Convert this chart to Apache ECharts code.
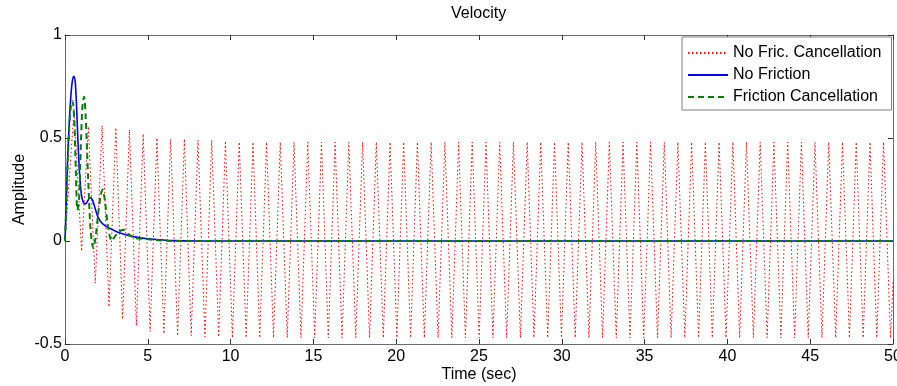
<!DOCTYPE html>
<html>
<head>
<meta charset="utf-8">
<script src="https://cdn.jsdelivr.net/npm/echarts@6/dist/echarts.min.js"></script>
<style>
html,body{margin:0;padding:0;background:#fff;}
#chart{width:897px;height:386px;}
</style>
</head>
<body>
<div id="chart"></div>
<script>
// ---- Data ----
const seriesNames = ['No Fric. Cancellation', 'No Friction', 'Friction Cancellation'];
const xTicks = [0, 5, 10, 15, 20, 25, 30, 35, 40, 45, 50];
const yTicks = [-0.5, 0, 0.5, 1];

// "No Fric. Cancellation" : extrema of the sustained oscillation
const redT = [
  0, 0.55, 1.00, 1.41, 1.83, 2.24, 2.66, 3.07, 3.48, 3.89, 4.31, 4.72, 5.14, 5.55, 5.97, 6.38,
  6.80, 7.21, 7.62, 8.03, 8.45, 8.86, 9.28, 9.69, 10.11,
  10.52, 10.94, 11.35, 11.76, 12.17, 12.59, 13.00, 13.42, 13.83, 14.25, 14.66, 15.08, 15.49, 15.90, 16.31, 16.73,
  17.14, 17.56, 17.97, 18.39, 18.80, 19.22, 19.63, 20.04, 20.45, 20.87, 21.28, 21.70, 22.11, 22.53, 22.94, 23.36,
  23.77, 24.18, 24.59, 25.01, 25.42, 25.84, 26.25, 26.67, 27.08, 27.50, 27.91, 28.32, 28.73, 29.15, 29.56, 29.98,
  30.39, 30.81, 31.22, 31.64, 32.05, 32.46, 32.87, 33.29, 33.70, 34.12, 34.53, 34.95, 35.36, 35.78, 36.19, 36.60,
  37.01, 37.43, 37.84, 38.26, 38.67, 39.09, 39.50, 39.92, 40.33, 40.74, 41.15, 41.57, 41.98, 42.40, 42.81, 43.23,
  43.64, 44.06, 44.47, 44.88, 45.29, 45.71, 46.12, 46.54, 46.95, 47.37, 47.78, 48.20, 48.61, 49.02, 49.43, 49.85,
  50
];
const redV = [
  0, 0.64, -0.05, 0.555, -0.205, 0.56, -0.32, 0.55, -0.38, 0.54, -0.41, 0.52, -0.44, 0.50, -0.45, 0.495,
  -0.46, 0.495, -0.46, 0.49, -0.465, 0.49, -0.465, 0.485, -0.47,
  0.48, -0.47, 0.48, -0.47, 0.48, -0.47, 0.48, -0.47, 0.48, -0.47, 0.48, -0.47, 0.48, -0.47, 0.48, -0.47,
  0.48, -0.47, 0.48, -0.47, 0.48, -0.47, 0.48, -0.47, 0.48, -0.47, 0.48, -0.47, 0.48, -0.47, 0.48, -0.47,
  0.48, -0.47, 0.48, -0.47, 0.48, -0.47, 0.48, -0.47, 0.48, -0.47, 0.48, -0.47, 0.48, -0.47, 0.48, -0.47,
  0.48, -0.47, 0.48, -0.47, 0.48, -0.47, 0.48, -0.47, 0.48, -0.47, 0.48, -0.47, 0.48, -0.47, 0.48, -0.47,
  0.48, -0.47, 0.48, -0.47, 0.48, -0.47, 0.48, -0.47, 0.48, -0.47, 0.48, -0.47, 0.48, -0.47, 0.48, -0.47,
  0.48, -0.47, 0.48, -0.47, 0.48, -0.47, 0.48, -0.47, 0.48, -0.47, 0.48, -0.47, 0.48, -0.47, 0.48, -0.47,
  -0.2
];

// "No Friction"
const blueT = [0, 0.04, 0.08, 0.15, 0.25, 0.35, 0.45, 0.54, 0.62, 0.70, 0.80, 0.90, 1.00, 1.10, 1.20, 1.30,
  1.45, 1.57, 1.70, 1.85, 2.00, 2.20, 2.50, 2.80, 3.20, 3.70, 4.20, 4.90, 5.50, 6.50, 8.00, 50];
const blueV = [0, 0.10, 0.20, 0.38, 0.56, 0.70, 0.78, 0.80, 0.77, 0.65, 0.45, 0.30, 0.22, 0.19, 0.18, 0.185,
  0.205, 0.21, 0.19, 0.15, 0.115, 0.09, 0.07, 0.058, 0.042, 0.03, 0.02, 0.012, 0.007, 0.002, 0, 0];

// "Friction Cancellation"
const greenT = [0, 0.04, 0.08, 0.15, 0.25, 0.35, 0.45, 0.55, 0.65, 0.75, 0.85, 0.95, 1.05, 1.15, 1.25, 1.40,
  1.55, 1.71, 1.85, 2.00, 2.15, 2.27, 2.40, 2.60, 2.82, 3.00, 3.25, 3.52, 3.80, 4.20, 4.80, 5.50, 6.50, 50];
const greenV = [0, 0.09, 0.18, 0.35, 0.55, 0.65, 0.68, 0.60, 0.35, 0.15, 0.20, 0.45, 0.65, 0.70, 0.60, 0.30,
  0.05, -0.035, 0.02, 0.13, 0.22, 0.25, 0.20, 0.07, 0.00, 0.02, 0.045, 0.055, 0.035, 0.015, 0.01, 0.005, 0, 0];

function pairs(t, v) {
  const n = Math.min(t.length, v.length);
  const out = [];
  for (let i = 0; i < n; i++) out.push([t[i], v[i]]);
  return out;
}

const FONT = '"Liberation Sans", Arial, Helvetica, sans-serif';
const AXIS_COLOR = '#6b6b6b';
const TICK_COLOR = '#333';
const FS = 16;

const chart = echarts.init(document.getElementById('chart'), null, {renderer: 'canvas'});

const baseX = {
  type: 'value', min: xTicks[0], max: xTicks[xTicks.length - 1], interval: 5,
  splitLine: {show: false},
  axisLine: {show: true, onZero: false, lineStyle: {color: AXIS_COLOR, width: 1}},
  axisTick: {show: true, inside: true, length: 5, lineStyle: {color: TICK_COLOR}},
};
const baseY = {
  type: 'value', min: yTicks[0], max: yTicks[yTicks.length - 1], interval: 0.5,
  splitLine: {show: false},
  axisLine: {show: true, onZero: false, lineStyle: {color: AXIS_COLOR, width: 1}},
  axisTick: {show: true, inside: true, length: 5, lineStyle: {color: TICK_COLOR}},
};

chart.setOption({
  animation: false,
  backgroundColor: '#fff',
  textStyle: {fontFamily: FONT},
  title: {
    text: 'Velocity', left: 451, top: 6, padding: 0,
    textStyle: {fontFamily: FONT, fontSize: FS, fontWeight: 'normal', color: '#000'}
  },
  grid: {left: 65, right: 4, top: 35, bottom: 42, containLabel: false, outerBoundsMode: 'none'},
  legend: {
    orient: 'vertical', left: 682, top: 37,
    data: seriesNames,
    itemWidth: 40, itemHeight: 14, itemGap: 6,
    padding: [8, 10, 5, 5],
    itemStyle: {opacity: 0, borderWidth: 0},
    backgroundColor: '#fff', borderColor: '#7f7f7f', borderWidth: 1, borderRadius: 0,
    textStyle: {fontFamily: FONT, fontSize: FS, color: '#000'}
  },
  xAxis: [
    Object.assign({}, baseX, {
      position: 'bottom',
      axisLabel: {show: true, fontSize: FS, color: '#000', margin: 5, fontFamily: FONT},
      name: 'Time (sec)', nameLocation: 'middle', nameGap: 23, nameMoveOverlap: false,
      nameTextStyle: {fontSize: FS, color: '#000', fontFamily: FONT}
    }),
    Object.assign({}, baseX, {position: 'top', axisLabel: {show: false}})
  ],
  yAxis: [
    Object.assign({}, baseY, {
      position: 'left',
      axisLabel: {show: true, fontSize: FS, color: '#000', margin: 3, fontFamily: FONT,
        formatter: v => String(v)},
      name: 'Amplitude', nameLocation: 'middle', nameGap: 37, nameMoveOverlap: false,
      nameTextStyle: {fontSize: FS, color: '#000', fontFamily: FONT}
    }),
    Object.assign({}, baseY, {position: 'right', axisLabel: {show: false}})
  ],
  series: [
    {
      name: seriesNames[0], type: 'line', xAxisIndex: 0, yAxisIndex: 0,
      data: pairs(redT, redV), showSymbol: false, symbol: 'none',
      lineStyle: {color: '#ff0000', width: 1, type: [1.5, 2.5]},
      itemStyle: {color: '#ff0000'}
    },
    {
      name: seriesNames[1], type: 'line', xAxisIndex: 0, yAxisIndex: 0,
      data: pairs(blueT, blueV), showSymbol: false, symbol: 'none', smooth: 0.3,
      lineStyle: {color: '#0000ff', width: 1.6, type: 'solid'},
      itemStyle: {color: '#0000ff'}
    },
    {
      name: seriesNames[2], type: 'line', xAxisIndex: 0, yAxisIndex: 0,
      data: pairs(greenT, greenV), showSymbol: false, symbol: 'none', smooth: 0.3,
      lineStyle: {color: '#008000', width: 2, type: [6, 4]},
      itemStyle: {color: '#008000'}
    }
  ]
});
</script>
</body>
</html>
